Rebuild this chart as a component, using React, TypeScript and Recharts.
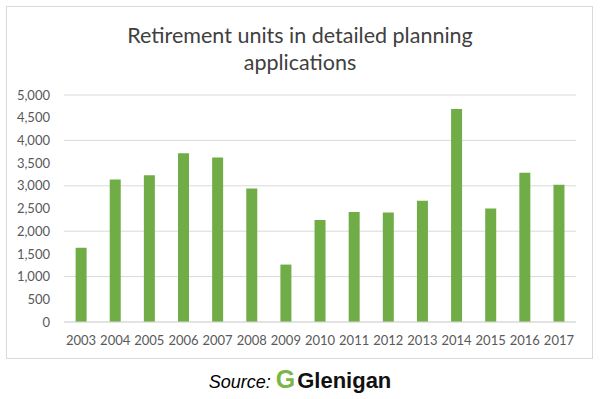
import React from "react";
import { BarChart, Bar, XAxis, YAxis, CartesianGrid } from "recharts";

const years = ["2003","2004","2005","2006","2007","2008","2009","2010","2011","2012","2013","2014","2015","2016","2017"];
const units = [1635, 3140, 3235, 3715, 3625, 2940, 1265, 2245, 2425, 2410, 2670, 4690, 2500, 3290, 3025];
const yTicks = [0, 500, 1000, 1500, 2000, 2500, 3000, 3500, 4000, 4500, 5000];

const data = years.map((y, i) => ({ year: y, units: units[i] }));

const fmt = (v: number) => v.toLocaleString("en-US");

export default function App() {
  return (
    <div style={{ position: "absolute", left: 0, top: 0, width: 600, height: 399, background: "#fff", overflow: "hidden" }}>
      <div style={{ position: "absolute", left: 6, top: 6, width: 587, height: 353, border: "1px solid #d9d9d9", boxSizing: "border-box" }} />
      <div style={{ position: "absolute", left: 0, top: 22, width: 600, textAlign: "center", fontFamily: "Lato, sans-serif", fontSize: 21.5, lineHeight: "27px", color: "#404040" }}>
        Retirement units in detailed planning
        <br />
        applications
      </div>
      <div style={{ position: "absolute", left: 0, top: 0 }}>
        <BarChart width={600} height={399} data={data} margin={{ top: 95, right: 24, bottom: 47, left: 0 }} barCategoryGap="34%">
          <CartesianGrid vertical={false} stroke="#d9d9d9" strokeWidth={1} />
          <XAxis dataKey="year" axisLine={{ stroke: "#d9d9d9" }} tickLine={false} height={30} tickMargin={8}
            tick={{ fill: "#595959", fontSize: 13, fontFamily: "Lato, sans-serif" }} interval={0} />
          <YAxis width={64} domain={[0, 5000]} ticks={yTicks} axisLine={false} tickLine={false} tickMargin={8}
            tickFormatter={fmt} tick={{ fill: "#595959", fontSize: 13, fontFamily: "Lato, sans-serif" }} />
          <Bar dataKey="units" fill="#70AD47" isAnimationActive={false} />
        </BarChart>
      </div>
      <div style={{ position: "absolute", left: 0, top: 366, width: 600, textAlign: "center", whiteSpace: "nowrap", lineHeight: "26px" }}>
        <span style={{ fontFamily: "'Liberation Sans', Arial, sans-serif", fontStyle: "italic", fontSize: 18, color: "#000" }}>Source: </span>
        <span style={{ fontFamily: "'Liberation Sans', Arial, sans-serif", fontWeight: 900, fontSize: 25, color: "#7ab648", marginRight: 2 }}>G</span>
        <span style={{ fontFamily: "'Liberation Sans', Arial, sans-serif", fontWeight: 700, fontSize: 22, color: "#111" }}>Glenigan</span>
      </div>
    </div>
  );
}
